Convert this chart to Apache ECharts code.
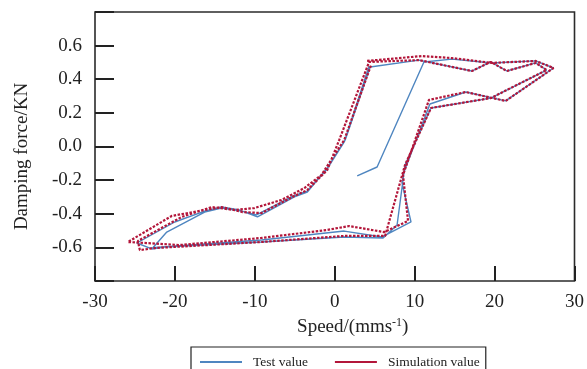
<!DOCTYPE html>
<html>
<head>
<meta charset="utf-8">
<script src="https://cdn.jsdelivr.net/npm/echarts@6/dist/echarts.min.js"></script>
<style>
html,body{margin:0;padding:0;background:#fff;}
#chart{width:587px;height:369px;}
</style>
</head>
<body>
<div id="chart"></div>
<script>
// Test value (measured) loop
var testSpeed = [2.81, 5.30, 11.16, 14.66, 19.65, 25.14, 27.38, 21.39, 16.40, 11.91, 8.67, 8.42, 9.54, 5.93, 1.19, -9.17, -21.64, -23.14, -24.76, -20.02, -16.28, -14.16, -11.91, -9.67, -5.05, -3.43, -0.94, 1.31, 4.43,
  10.54, 17.15, 19.52, 21.52, 25.14, 26.51, 19.52, 12.04, 8.79, 7.80, 6.05, 1.19, -9.17, -21.27, -22.89, -21.02, -16.28, -14.16, -11.66, -9.79, -5.18, -3.43, -1.05, 1.19, 4.30];
var testForce = [-0.175, -0.122, 0.503, 0.520, 0.497, 0.509, 0.467, 0.271, 0.324, 0.253, -0.152, -0.217, -0.449, -0.538, -0.503, -0.556, -0.598, -0.604, -0.574, -0.449, -0.384, -0.360, -0.378, -0.419, -0.300, -0.271, -0.128, 0.039, 0.473,
  0.514, 0.449, 0.503, 0.449, 0.497, 0.455, 0.288, 0.229, -0.110, -0.467, -0.544, -0.538, -0.568, -0.598, -0.610, -0.509, -0.390, -0.366, -0.384, -0.407, -0.294, -0.265, -0.140, 0.027, 0.479];

// Simulation value loop
var simSpeed = [4.05, 10.91, 14.66, 19.65, 25.14, 27.38, 21.39, 16.40, 11.79, 8.54, 9.17, 6.17, 1.81, -1.05, -9.17, -19.40, -25.88, -20.40, -16.28, -14.16, -11.54, -9.17, -5.05, -3.43, -0.94, 0.56, 4.30,
  10.54, 17.15, 19.52, 21.52, 25.14, 26.51, 19.52, 12.04, 8.79, 6.30, 1.19, -9.17, -22.52, -24.39, -24.64, -19.15, -15.41, -12.54, -10.04, -6.67, -3.80, -1.68, 1.19, 4.55];
var simForce = [0.509, 0.538, 0.526, 0.497, 0.509, 0.467, 0.271, 0.324, 0.277, -0.170, -0.443, -0.509, -0.473, -0.497, -0.544, -0.586, -0.568, -0.413, -0.378, -0.360, -0.390, -0.396, -0.294, -0.259, -0.140, 0.039, 0.503,
  0.514, 0.449, 0.503, 0.449, 0.497, 0.455, 0.288, 0.229, -0.110, -0.532, -0.532, -0.568, -0.604, -0.616, -0.562, -0.419, -0.360, -0.378, -0.366, -0.318, -0.247, -0.170, 0.039, 0.485];

var seriesNames = ['Test value', 'Simulation value'];
var xAxisTitle = 'Speed/(mms{sup|-1})';
var yAxisTitle = 'Damping force/KN';

function zip(a, b) { return a.map(function (v, i) { return [v, b[i]]; }); }

var font = 'Liberation Serif, Times New Roman, serif';
var chart = echarts.init(document.getElementById('chart'), null, { renderer: 'canvas' });
chart.setOption({
  animation: false,
  backgroundColor: '#fff',
  grid: { left: 95, right: 11, top: 12, bottom: 88, show: true, borderColor: '#2b2b2b', borderWidth: 1.6, backgroundColor: 'transparent' },
  legend: {
    data: seriesNames,
    left: 191, top: 347,
    orient: 'horizontal',
    borderColor: '#222', borderWidth: 1.2,
    padding: [8, 6, 8, 9],
    itemWidth: 42, itemHeight: 14, itemGap: 27,
    textStyle: { fontFamily: font, fontSize: 13.5, color: '#222', padding: [0, 0, 0, 6] },
    lineStyle: { type: 'solid', width: 2 },
    icon: 'path://M0,6 L42,6 L42,8 L0,8 Z'
  },
  xAxis: {
    type: 'value', min: -30, max: 30, interval: 10,
    name: xAxisTitle, nameLocation: 'middle', nameGap: 36,
    nameTextStyle: {
      fontFamily: font, fontSize: 19, color: '#222', padding: [0, 0, 0, 36],
      rich: { sup: { fontFamily: font, fontSize: 12, color: '#222', verticalAlign: 'top', padding: [0, 0, 8, 0] } }
    },
    axisLine: { show: false, onZero: false },
    axisTick: { show: true, inside: true, length: 15, lineStyle: { color: '#222', width: 2 } },
    axisLabel: { fontFamily: font, fontSize: 19, color: '#222', margin: 12 },
    splitLine: { show: false }
  },
  yAxis: {
    type: 'value', min: -0.8, max: 0.8, interval: 0.2,
    name: yAxisTitle, nameLocation: 'middle', nameGap: 63, nameRotate: 90,
    nameTextStyle: { fontFamily: font, fontSize: 19, color: '#222', padding: [0, 20, 0, 0] },
    axisLine: { show: false, onZero: false },
    axisTick: { show: true, inside: true, length: 19, lineStyle: { color: '#222', width: 2 } },
    axisLabel: {
      fontFamily: font, fontSize: 19, color: '#222', margin: 13,
      formatter: function (v) { return Math.abs(v) > 0.75 ? '' : v.toFixed(1); }
    },
    splitLine: { show: false }
  },
  series: [
    {
      name: seriesNames[0], type: 'line', data: zip(testSpeed, testForce),
      symbol: 'none', smooth: false, z: 2,
      itemStyle: { color: '#4f86c0' },
      lineStyle: { color: '#4f86c0', width: 1.4 }
    },
    {
      name: seriesNames[1], type: 'line', data: zip(simSpeed, simForce),
      symbol: 'none', smooth: false, z: 3,
      itemStyle: { color: '#b3163a' },
      lineStyle: { color: '#b3163a', width: 2.2, type: [2.5, 1.5] }
    }
  ]
});
</script>
</body>
</html>
